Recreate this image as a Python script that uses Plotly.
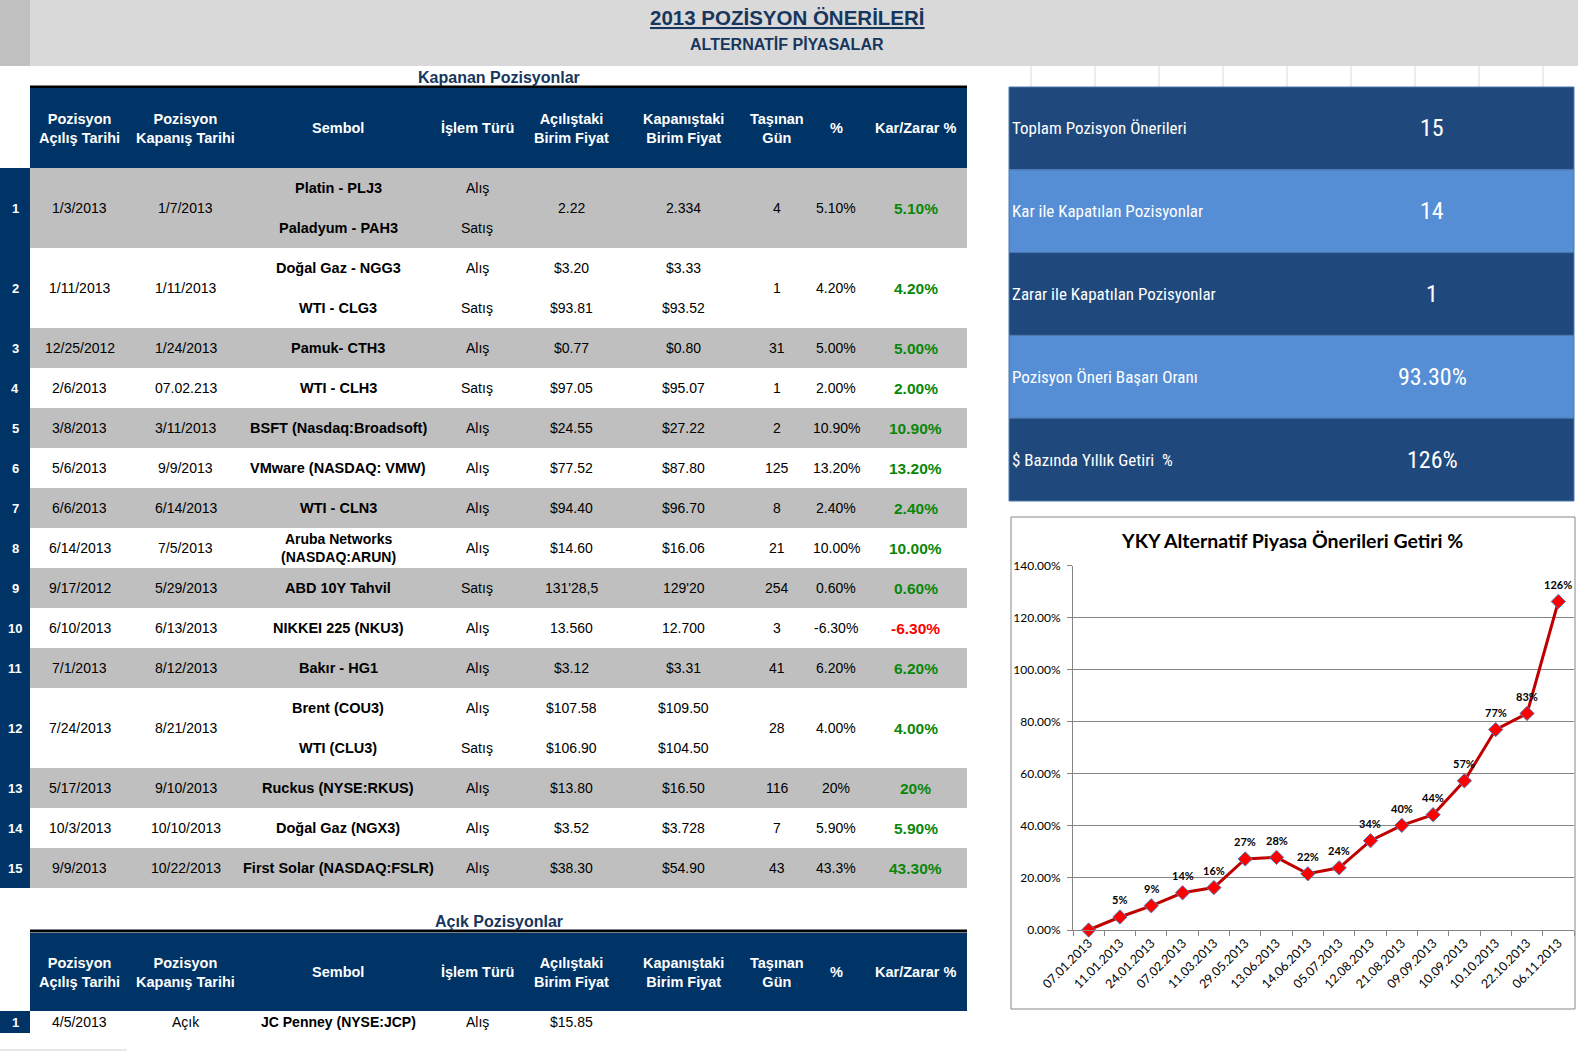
import plotly.graph_objects as go

W, H = 1578, 1053

# ---------------- data ----------------
row_numbers = list(range(1, 16))
open_dates = ["1/3/2013", "1/11/2013", "12/25/2012", "2/6/2013", "3/8/2013", "5/6/2013", "6/6/2013",
              "6/14/2013", "9/17/2012", "6/10/2013", "7/1/2013", "7/24/2013", "5/17/2013", "10/3/2013", "9/9/2013"]
close_dates = ["1/7/2013", "1/11/2013", "1/24/2013", "07.02.213", "3/11/2013", "9/9/2013", "6/14/2013",
               "7/5/2013", "5/29/2013", "6/13/2013", "8/12/2013", "8/21/2013", "9/10/2013", "10/10/2013", "10/22/2013"]
symbols = [["Platin - PLJ3", "Paladyum - PAH3"], ["Doğal Gaz - NGG3", "WTI - CLG3"], ["Pamuk- CTH3"],
           ["WTI - CLH3"], ["BSFT (Nasdaq:Broadsoft)"], ["VMware (NASDAQ: VMW)"], ["WTI - CLN3"],
           ["Aruba Networks<br>(NASDAQ:ARUN)"], ["ABD 10Y Tahvil"], ["NIKKEI 225 (NKU3)"], ["Bakır - HG1"],
           ["Brent (COU3)", "WTI (CLU3)"], ["Ruckus (NYSE:RKUS)"], ["Doğal Gaz (NGX3)"], ["First Solar (NASDAQ:FSLR)"]]
trade_types = [["Alış", "Satış"], ["Alış", "Satış"], ["Alış"], ["Satış"], ["Alış"], ["Alış"], ["Alış"],
               ["Alış"], ["Satış"], ["Alış"], ["Alış"], ["Alış", "Satış"], ["Alış"], ["Alış"], ["Alış"]]
open_prices = [["2.22"], ["$3.20", "$93.81"], ["$0.77"], ["$97.05"], ["$24.55"], ["$77.52"], ["$94.40"],
               ["$14.60"], ["131'28,5"], ["13.560"], ["$3.12"], ["$107.58", "$106.90"], ["$13.80"], ["$3.52"], ["$38.30"]]
close_prices = [["2.334"], ["$3.33", "$93.52"], ["$0.80"], ["$95.07"], ["$27.22"], ["$87.80"], ["$96.70"],
                ["$16.06"], ["129'20"], ["12.700"], ["$3.31"], ["$109.50", "$104.50"], ["$16.50"], ["$3.728"], ["$54.90"]]
days_held = [4, 1, 31, 1, 2, 125, 8, 21, 254, 3, 41, 28, 116, 7, 43]
pct_text = ["5.10%", "4.20%", "5.00%", "2.00%", "10.90%", "13.20%", "2.40%", "10.00%", "0.60%", "-6.30%",
            "6.20%", "4.00%", "20%", "5.90%", "43.3%"]
pnl_text = ["5.10%", "4.20%", "5.00%", "2.00%", "10.90%", "13.20%", "2.40%", "10.00%", "0.60%", "-6.30%",
            "6.20%", "4.00%", "20%", "5.90%", "43.30%"]
pnl_values = [5.1, 4.2, 5.0, 2.0, 10.9, 13.2, 2.4, 10.0, 0.6, -6.3, 6.2, 4.0, 20.0, 5.9, 43.3]

header_labels = ["Pozisyon<br>Açılış Tarihi", "Pozisyon<br>Kapanış Tarihi", "Sembol", "İşlem Türü",
                 "Açılıştaki<br>Birim Fiyat", "Kapanıştaki<br>Birim Fiyat", "Taşınan<br>Gün", "%", "Kar/Zarar %"]

open_pos_numbers = [1]
open_pos_rows = [["4/5/2013", "Açık", "JC Penney (NYSE:JCP)", "Alış", "$15.85", "", "", "", ""]]

stats_labels = ["Toplam Pozisyon Önerileri", "Kar ile Kapatılan Pozisyonlar", "Zarar ile Kapatılan Pozisyonlar",
                "Pozisyon Öneri Başarı Oranı", "$ Bazında Yıllık Getiri  %"]
stats_values = ["15", "14", "1", "93.30%", "126%"]

chart_dates = ["07.01.2013", "11.01.2013", "24.01.2013", "07.02.2013", "11.03.2013", "29.05.2013", "13.06.2013",
               "14.06.2013", "05.07.2013", "12.08.2013", "21.08.2013", "09.09.2013", "10.09.2013", "10.10.2013",
               "22.10.2013", "06.11.2013"]
chart_returns = [0.0, 0.05, 0.093, 0.143, 0.163, 0.273, 0.279, 0.216, 0.239, 0.343, 0.402, 0.443, 0.573,
                 0.77, 0.832, 1.262]
chart_labels = [""] + [f"{round(v * 100)}%" for v in chart_returns[1:]]

# ---------------- style / layout constants ----------------
NAVY = "#003366"
GRAY = "#bfbfbf"
TITLE_BLUE = "#17365d"
DARK_PANEL = "#1f497d"
LIGHT_PANEL = "#558ed5"
GREEN = "#0a870a"
RED = "#ff0000"
FONT = "Liberation Sans, Arial, sans-serif"
NARROW = "Liberation Sans Narrow, Arial Narrow, Roboto Condensed, DejaVu Sans Condensed, sans-serif"
CFONT = "Lato, Carlito, Calibri, sans-serif"

COL_CENTERS = [79.5, 185.5, 338, 477, 571, 683.5, 777, 836, 915.5]
NUM_COL = (0, 30)
TABLE_X = (30, 967)
UNIT = 40
HEADER_TOP, HEADER_BOT = 88, 168
OPEN_HEADER_TOP, OPEN_HEADER_BOT = 933, 1011

shapes = []
annotations = []


def rect(x0, y0, x1, y1, fill, line=None, lw=0, layer="below"):
    shapes.append(dict(type="rect", xref="x", yref="y", x0=x0, y0=y0, x1=x1, y1=y1, fillcolor=fill,
                       line=dict(color=line or fill, width=lw), layer=layer))


def hline(x0, x1, y, color, width):
    shapes.append(dict(type="line", xref="x", yref="y", x0=x0, x1=x1, y0=y, y1=y,
                       line=dict(color=color, width=width), layer="below"))


def vline(x, y0, y1, color, width):
    shapes.append(dict(type="line", xref="x", yref="y", x0=x, x1=x, y0=y0, y1=y1,
                       line=dict(color=color, width=width), layer="below"))


def text(x, y, s, size=14, color="black", bold=False, family=FONT, xanchor="center"):
    annotations.append(dict(xref="x", yref="y", x=x, y=y, text=(f"<b>{s}</b>" if bold else s),
                            showarrow=False, xanchor=xanchor, yanchor="middle",
                            font=dict(family=family, size=size, color=color)))


# ---------------- page header ----------------
rect(0, 0, W, 66, "#d9d9d9")
rect(0, 0, 30, 66, "#c0c0c0")
text(787, 17, "<u>2013 POZİSYON ÖNERİLERİ</u>", size=20.5, color=TITLE_BLUE, bold=True)
text(787, 44, "ALTERNATİF PİYASALAR", size=16, color=TITLE_BLUE, bold=True)

# excel gridlines top-right
for k in range(9):
    vline(1031 + 64 * k, 66, 87, "#dadada", 1)

# ---------------- closed positions table ----------------
text(499, 77, "Kapanan Pozisyonlar", size=16, color=TITLE_BLUE, bold=True)
hline(TABLE_X[0], TABLE_X[1], 87, "black", 3)
rect(TABLE_X[0], HEADER_TOP, TABLE_X[1], HEADER_BOT, NAVY)
for cx, lab in zip(COL_CENTERS, header_labels):
    text(cx, (HEADER_TOP + HEADER_BOT) / 2, lab, size=14.5, color="white", bold=True)

top = HEADER_BOT
for i, num in enumerate(row_numbers):
    span = len(symbols[i])
    bottom = top + span * UNIT
    if i % 2 == 0:
        rect(TABLE_X[0], top, TABLE_X[1], bottom, GRAY)
    rect(NUM_COL[0], top, NUM_COL[1], bottom, NAVY)
    mid = (top + bottom) / 2
    text(15, mid, str(num), size=13, color="white", bold=True)
    row_cells = [[open_dates[i]], [close_dates[i]], symbols[i], trade_types[i], open_prices[i],
                 close_prices[i], [str(days_held[i])], [pct_text[i]], [pnl_text[i]]]
    for c, (cx, vals) in enumerate(zip(COL_CENTERS, row_cells)):
        is_bold = c in (2, 8)
        color = "black"
        size = 14
        if c == 8:
            color = GREEN if pnl_values[i] >= 0 else RED
            size = 15.5
        if c == 2:
            size = 14.5 if "<br>" not in vals[0] else 14
        if len(vals) == 1:
            text(cx, mid, vals[0], size=size, color=color, bold=is_bold)
        else:
            for k, v in enumerate(vals):
                text(cx, top + (k + 0.5) * UNIT, v, size=size, color=color, bold=is_bold)
    top = bottom

# ---------------- open positions table ----------------
text(499, 921, "Açık Pozisyonlar", size=16, color=TITLE_BLUE, bold=True)
hline(TABLE_X[0], TABLE_X[1], 931, "black", 3)
rect(TABLE_X[0], OPEN_HEADER_TOP, TABLE_X[1], OPEN_HEADER_BOT, NAVY)
for cx, lab in zip(COL_CENTERS, header_labels):
    text(cx, (OPEN_HEADER_TOP + OPEN_HEADER_BOT) / 2, lab, size=14.5, color="white", bold=True)
for j, num in enumerate(open_pos_numbers):
    y0 = OPEN_HEADER_BOT + j * UNIT
    rect(NUM_COL[0], y0, NUM_COL[1], y0 + 22, NAVY)
    text(15, y0 + 11, str(num), size=13, color="white", bold=True)
    for c, (cx, v) in enumerate(zip(COL_CENTERS, open_pos_rows[j])):
        if v:
            text(cx, y0 + 11, v, size=14, bold=(c == 2))
hline(0, 127, 1050, "#d0d0d0", 1)

# ---------------- stats panel ----------------
PX0, PX1, PY0, PH = 1009, 1574, 87, 82.8
for i, (lab, val) in enumerate(zip(stats_labels, stats_values)):
    y0 = PY0 + i * PH
    rect(PX0, y0, PX1, y0 + PH, DARK_PANEL if i % 2 == 0 else LIGHT_PANEL, line="#4a78b0", lw=1)
    text(PX0 + 1, y0 + PH / 2, lab, size=17, color="white", family=NARROW, xanchor="left")
    text(1432, y0 + PH / 2, val, size=24, color="white", family=NARROW)

# ---------------- chart ----------------
BOX = (1011, 517, 1575, 1009)
shapes.append(dict(type="rect", xref="x", yref="y", x0=BOX[0], y0=BOX[1], x1=BOX[2], y1=BOX[3],
                   fillcolor="rgba(0,0,0,0)", line=dict(color="#868686", width=1), layer="below"))
text(1292, 540, "YKY Alternatif Piyasa Önerileri Getiri %", size=19.5, bold=True, family=CFONT)

PLOT_L, PLOT_R, PLOT_T, PLOT_B = 1073, 1574, 565.6, 930

fig = go.Figure()
fig.add_trace(go.Scatter(
    x=chart_dates, y=chart_returns, mode="lines+markers",
    line=dict(color="#c00000", width=3),
    marker=dict(symbol="diamond", size=11, color="#ff0000", line=dict(color="#4f81bd", width=1)),
    xaxis="x2", yaxis="y2", cliponaxis=False, showlegend=False, hoverinfo="skip"))

# data labels above the points
for xd, yv, lab in zip(chart_dates, chart_returns, chart_labels):
    if lab:
        annotations.append(dict(xref="x2", yref="y2", x=xd, y=yv, text=f"<b>{lab}</b>", showarrow=False,
                                yshift=17, xanchor="center", yanchor="middle",
                                font=dict(family=CFONT, size=11, color="black")))

fig.update_layout(
    width=W, height=H, margin=dict(l=0, r=0, t=0, b=0, pad=0, autoexpand=False),
    paper_bgcolor="white", plot_bgcolor="rgba(0,0,0,0)",
    showlegend=False,
    xaxis=dict(range=[0, W], domain=[0, 1], visible=False, fixedrange=True, automargin=False),
    yaxis=dict(range=[H, 0], domain=[0, 1], visible=False, fixedrange=True, automargin=False),
    xaxis2=dict(domain=[PLOT_L / W, PLOT_R / W], anchor="y2", type="category", automargin=False,
                range=[-0.5, len(chart_dates) - 0.5],
                showline=True, linecolor="#868686", linewidth=1, showgrid=False,
                ticks="outside", tickson="boundaries", ticklen=5, tickcolor="#868686",
                tickangle=-45, tickfont=dict(family=CFONT, size=12.5, color="black")),
    yaxis2=dict(domain=[1 - PLOT_B / H, 1 - PLOT_T / H], anchor="x2", range=[0, 1.4], dtick=0.2,
                tickformat=".2%", showgrid=True, gridcolor="#868686", gridwidth=1, automargin=False,
                showline=True, linecolor="#868686", linewidth=1, zeroline=False,
                ticks="outside", ticklen=5, tickcolor="#868686", ticklabelstandoff=4,
                tickfont=dict(family=CFONT, size=12, color="black")),
    shapes=shapes, annotations=annotations,
)

fig.write_html(
    "out.html",
    config={"displayModeBar": False},
    post_script="document.body.style.margin='0';document.body.style.overflow='hidden';",
)
